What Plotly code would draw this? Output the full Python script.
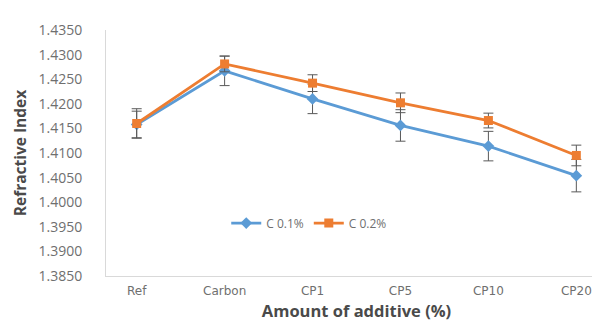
import plotly.graph_objects as go

categories = ["Ref", "Carbon", "CP1", "CP5", "CP10", "CP20"]
c01_values = [1.4158, 1.4267, 1.4210, 1.4156, 1.4114, 1.4054]
c01_errors = [0.0027, 0.0030, 0.0030, 0.0032, 0.0030, 0.0033]
c02_values = [1.4160, 1.4281, 1.4242, 1.4202, 1.4166, 1.4095]
c02_errors = [0.0030, 0.0016, 0.0017, 0.0020, 0.0015, 0.0021]
y_ticks = [1.385 + 0.005 * i for i in range(11)]

fig = go.Figure()
fig.add_trace(go.Scatter(
    x=categories, y=c01_values, name="C 0.1%", mode="lines+markers",
    line=dict(color="#5B9BD5", width=2.8),
    marker=dict(symbol="diamond", size=9, color="#5B9BD5"),
    error_y=dict(type="data", array=c01_errors, color="#595959", thickness=1, width=5),
))
fig.add_trace(go.Scatter(
    x=categories, y=c02_values, name="C 0.2%", mode="lines+markers",
    line=dict(color="#ED7D31", width=2.8),
    marker=dict(symbol="square", size=9, color="#ED7D31"),
    error_y=dict(type="data", array=c02_errors, color="#595959", thickness=1, width=5),
))

fig.update_layout(
    width=600, height=323,
    margin=dict(l=98, r=1, t=22, b=55),
    paper_bgcolor="white", plot_bgcolor="white",
    font=dict(family="Open Sans", color="#6F6F6F", size=12),
    showlegend=True,
    legend=dict(orientation="h", x=0.24, y=0.215, xanchor="left", yanchor="middle",
                bgcolor="rgba(0,0,0,0)", font=dict(size=12, color="#6F6F6F"),
                itemwidth=30),
    xaxis=dict(
        title=dict(text="<b>Amount of additive (%)</b>", font=dict(size=16.5, color="#4A4A4A"), standoff=8),
        showline=True, linecolor="#D9D9D9", linewidth=1, showgrid=False,
        ticks="", tickfont=dict(size=12, color="#6F6F6F", family="DejaVu Sans"),
        ticklabelstandoff=4,
    ),
    yaxis=dict(
        title=dict(text="<b>Refractive Index</b>", font=dict(size=15.5, color="#4A4A4A"), standoff=8),
        range=[1.385, 1.435], tickvals=y_ticks, tickformat=".4f",
        showline=True, linecolor="#D9D9D9", linewidth=1, showgrid=False, zeroline=False,
        ticks="", tickfont=dict(size=14, color="#6F6F6F"),
        ticklabelstandoff=20,
    ),
)

fig.write_html("out.html")
